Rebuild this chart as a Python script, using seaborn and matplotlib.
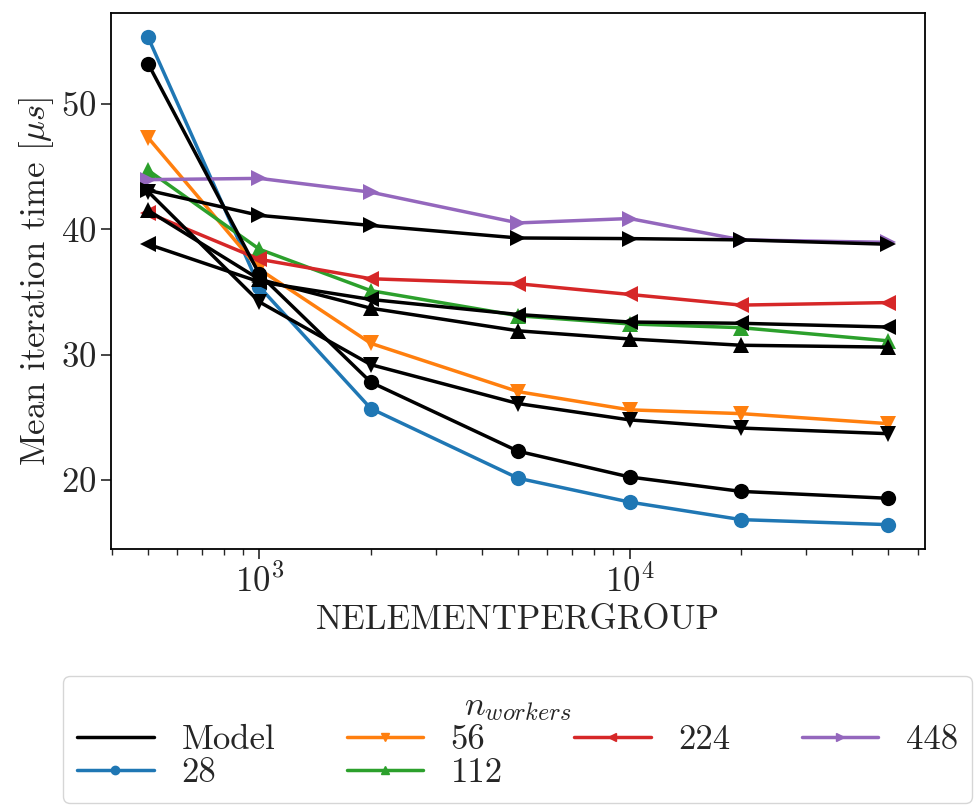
import matplotlib
matplotlib.use("Agg")
import matplotlib.pyplot as plt
from matplotlib.lines import Line2D
from matplotlib.ticker import MultipleLocator
import seaborn as sns
import pandas as pd

# values
n_elements = [500, 1000, 2000, 5000, 10000, 20000, 50000]
workers = [28, 56, 112, 224, 448]

meas_28 = [55.3, 35.4, 25.7, 20.15, 18.25, 16.85, 16.45]
meas_56 = [47.3, 36.8, 30.9, 27.05, 25.6, 25.3, 24.5]
meas_112 = [44.7, 38.4, 35.1, 33.1, 32.45, 32.15, 31.1]
meas_224 = [41.3, 37.6, 36.05, 35.65, 34.8, 33.95, 34.15]
meas_448 = [43.95, 44.05, 42.95, 40.5, 40.85, 39.15, 38.95]

model_28 = [53.2, 36.4, 27.8, 22.3, 20.25, 19.1, 18.55]
model_56 = [43.0, 34.2, 29.2, 26.1, 24.8, 24.15, 23.7]
model_112 = [41.5, 36.0, 33.7, 31.9, 31.25, 30.75, 30.6]
model_224 = [38.8, 35.8, 34.4, 33.2, 32.6, 32.5, 32.2]
model_448 = [43.1, 41.1, 40.3, 39.3, 39.25, 39.15, 38.8]

markers = ["o", "v", "^", "<", ">"]
colors = sns.color_palette("tab10", 5)


def to_long(series):
    rows = []
    for n, vals in zip(workers, series):
        for x, y in zip(n_elements, vals):
            rows.append({"nelem": x, "time": y, "workers": n})
    return pd.DataFrame(rows)


meas = to_long([meas_28, meas_56, meas_112, meas_224, meas_448])
model = to_long([model_28, model_56, model_112, model_224, model_448])

sns.set_style("ticks")
plt.rcParams["font.family"] = ["cmr10"]
plt.rcParams["mathtext.fontset"] = "cm"
plt.rcParams["axes.formatter.use_mathtext"] = True
plt.rcParams["font.size"] = 25

fig = plt.figure(figsize=(9.74, 8.05), dpi=100)
ax = fig.add_axes([0.114, 0.318, 0.836, 0.666])

sns.lineplot(data=meas, x="nelem", y="time", hue="workers", style="workers",
             palette=colors, markers=markers, dashes=False, markersize=11,
             linewidth=2.5, markeredgewidth=0, legend=False, ax=ax)
sns.lineplot(data=model, x="nelem", y="time", hue="workers", style="workers",
             palette=["black"] * 5, markers=markers, dashes=False, markersize=11,
             linewidth=2.5, markeredgewidth=0, legend=False, ax=ax)

ax.set_xscale("log")
ax.yaxis.set_major_locator(MultipleLocator(10))
ax.set_xlabel("NELEMENTPERGROUP", fontsize=25)
ax.set_ylabel(r"Mean iteration time [$\mu s$]", fontsize=25)
ax.tick_params(labelsize=25, width=1.2, length=7)
ax.tick_params(which="minor", width=1, length=4)
for s in ax.spines.values():
    s.set_linewidth(1.3)
    s.set_color("black")

handles = [Line2D([], [], color="black", lw=2.5)]
labels = ["Model"]
for n, m, c in zip(workers, markers, colors):
    handles.append(Line2D([], [], color=c, lw=2.5, marker=m, markersize=6))
    labels.append(str(n))

fig.legend(handles, labels, title=r"$n_{workers}$", ncol=4, loc="upper left",
           bbox_to_anchor=(0.065, 0.003, 0.933, 0.157), mode="expand",
           fontsize=25, title_fontsize=25, frameon=True, fancybox=True,
           handlelength=2.2, labelspacing=0.05, borderaxespad=0.0,
           edgecolor="#cccccc")

fig.savefig("out.png", dpi=100)
